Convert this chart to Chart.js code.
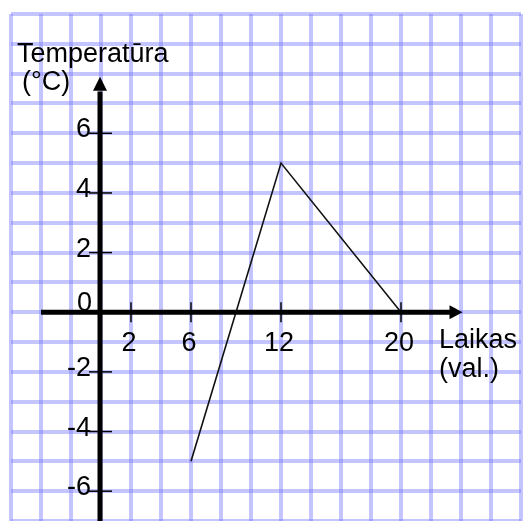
<!DOCTYPE html>
<html>
<head>
<meta charset="utf-8">
<script src="https://cdn.jsdelivr.net/npm/chart.js@4/dist/chart.umd.min.js"></script>
<style>
  html, body { margin: 0; padding: 0; background: #fff; }
</style>
</head>
<body>
<canvas id="tempChart" width="524" height="521"></canvas>
<script>
// data
const hours = [6, 12, 20]
const temps = [-5, 5, 0]
const xTickVals = [2, 6, 12, 20]
const yTickVals = [-6, -4, -2, 0, 2, 4, 6]
const yTitle = ['Temperatūra', '(°C)']
const xTitle = ['Laikas', '(val.)']

const FONT = '27px "Liberation Sans", Arial, sans-serif'
const GRID = 'rgba(120,120,255,0.44)'

// draws the black axes through 0 with arrows, tick marks and labels
const paperAxes = {
  id: 'paperAxes',
  afterDatasetsDraw(chart) {
    const ctx = chart.ctx
    const xs = chart.scales.x
    const ys = chart.scales.y
    const ox = xs.getPixelForValue(0) - 1
    const oy = ys.getPixelForValue(0)

    ctx.save()
    ctx.strokeStyle = '#000'
    ctx.fillStyle = '#000'

    // y axis
    ctx.lineWidth = 5
    ctx.beginPath()
    ctx.moveTo(ox, chart.height)
    ctx.lineTo(ox, ys.getPixelForValue(7.4))
    ctx.stroke()
    let tipY = ys.getPixelForValue(7.9)
    ctx.beginPath()
    ctx.moveTo(ox, tipY)
    ctx.lineTo(ox - 7, tipY + 14)
    ctx.lineTo(ox + 7, tipY + 14)
    ctx.closePath()
    ctx.fill()

    // x axis
    ctx.beginPath()
    ctx.moveTo(xs.getPixelForValue(-4), oy)
    ctx.lineTo(xs.getPixelForValue(23.5), oy)
    ctx.stroke()
    let tipX = xs.getPixelForValue(24.1)
    ctx.beginPath()
    ctx.moveTo(tipX, oy)
    ctx.lineTo(tipX - 13, oy - 7)
    ctx.lineTo(tipX - 13, oy + 7)
    ctx.closePath()
    ctx.fill()

    ctx.font = FONT
    ctx.lineWidth = 1.5

    // x ticks + labels
    xTickVals.forEach(v => {
      const px = xs.getPixelForValue(v)
      ctx.beginPath()
      ctx.moveTo(px, oy - 10)
      ctx.lineTo(px, oy + 10)
      ctx.stroke()
      ctx.textAlign = 'center'
      ctx.textBaseline = 'alphabetic'
      ctx.fillText(String(v), px - 2, oy + 39)
    })

    // y ticks + labels
    yTickVals.forEach(v => {
      const py = ys.getPixelForValue(v)
      ctx.textAlign = 'right'
      ctx.textBaseline = 'alphabetic'
      if (v === 0) {
        ctx.fillText('0', ox - 8, oy - 1)
        return
      }
      ctx.beginPath()
      ctx.moveTo(ox - 11, py)
      ctx.lineTo(ox + 12, py)
      ctx.stroke()
      ctx.fillText(String(v), ox - 9, py + 4)
    })

    // axis titles
    ctx.textAlign = 'left'
    ctx.fillText(yTitle[0], 17, 62)
    ctx.fillText(yTitle[1], 22, 90)
    ctx.fillText(xTitle[0], 439, 348)
    ctx.fillText(xTitle[1], 439, 377)
    ctx.restore()
  }
}

const ctx = document.getElementById('tempChart').getContext('2d')
const tempChart = new Chart(ctx, {
  type: 'scatter',
  data: {
    datasets: [{
      data: hours.map((h, i) => ({ x: h, y: temps[i] })),
      showLine: true,
      borderColor: '#111',
      borderWidth: 1.6,
      pointRadius: 0,
      tension: 0
    }]
  },
  options: {
    responsive: false,
    animation: false,
    layout: { padding: { left: 11, top: 14, right: 3, bottom: 0 } },
    plugins: {
      legend: { display: false },
      tooltip: { enabled: false }
    },
    scales: {
      x: {
        type: 'linear',
        min: -6,
        max: 28,
        ticks: { display: false, stepSize: 2 },
        border: { display: false },
        grid: { color: GRID, lineWidth: 4, drawTicks: false }
      },
      y: {
        type: 'linear',
        min: -7,
        max: 10,
        ticks: { display: false, stepSize: 1 },
        border: { display: false },
        grid: { color: GRID, lineWidth: 4, drawTicks: false }
      }
    }
  },
  plugins: [paperAxes]
})
</script>
</body>
</html>
